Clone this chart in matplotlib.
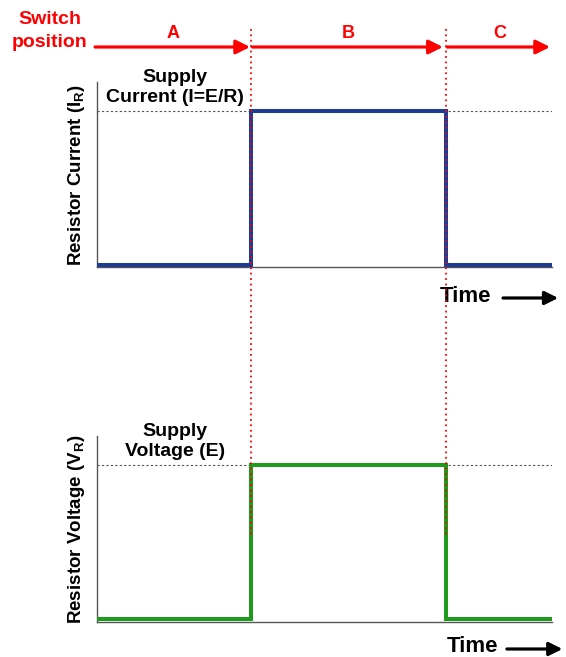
import matplotlib
matplotlib.use("Agg")
import matplotlib.pyplot as plt

plt.rcParams["font.family"] = ["Liberation Sans", "DejaVu Sans"]
plt.rcParams["font.weight"] = "bold"

# switch timeline (arbitrary time units)
time = [0.0, 4.0, 4.0, 9.05, 9.05, 11.8]
current = [0, 0, 1, 1, 0, 0]
voltage = [0, 0, 1, 1, 0, 0]
switch_times = [4.0, 9.05]
positions = ["A", "B", "C"]
segments = [(-0.05, 3.97), (4.03, 8.97), (9.08, 11.75)]

W, H = 566, 657
fig = plt.figure(figsize=(W / 100, H / 100), dpi=100)

x0, x1 = 97, 552
def px_axes(top, bottom):
    return fig.add_axes([x0 / W, 1 - bottom / H, (x1 - x0) / W, (bottom - top) / H])

ax1 = px_axes(82, 267)
ax2 = px_axes(436, 622)
ax1.set_ylim(-0.013, 1.188)
ax2.set_ylim(-0.02, 1.188)

for ax, y, col, lab, sup in [
    (ax1, current, "#1c3c96", "Resistor Current (I$_\\mathregular{R}$)", "Supply\nCurrent (I=E/R)"),
    (ax2, voltage, "#1f9a1f", "Resistor Voltage (V$_\\mathregular{R}$)", "Supply\nVoltage (E)"),
]:
    ax.set_xlim(0, 11.8)
    ax.axhline(1, color="#555555", ls=(0, (2, 2)), lw=0.8, zorder=1)
    ax.plot(time, y, color=col, lw=2.9, solid_joinstyle="miter", zorder=3)
    for s in ["top", "right"]:
        ax.spines[s].set_visible(False)
    for s in ["left", "bottom"]:
        ax.spines[s].set_color("#555555")
        ax.spines[s].set_linewidth(1.0)
    ax.set_xticks([])
    ax.set_yticks([])
    ax.set_ylabel(lab, fontsize=13.5, fontweight="bold", labelpad=7)
    ax.text(2.03, 1.035, sup, ha="center", va="bottom", fontsize=14, fontweight="bold",
            linespacing=1.2)

# overlay in pixel-y coordinates for annotations across both panels
ov = fig.add_axes([x0 / W, 0, (x1 - x0) / W, 1])
ov.set_xlim(0, 11.8)
ov.set_ylim(H, 0)
ov.axis("off")
ov.patch.set_alpha(0)

for t in switch_times:
    ov.plot([t, t], [29, 537], color="red", ls=(0, (1, 2)), lw=1.3, zorder=5)

ov.text(-1.22, 31, "Switch\nposition", color="red", fontsize=14, fontweight="bold",
        ha="center", va="center", linespacing=1.4)
for (a, b), p in zip(segments, positions):
    ov.annotate("", xy=(b, 47), xytext=(a, 47),
                arrowprops=dict(arrowstyle="-|>", color="red", lw=2.3, mutation_scale=21,
                                shrinkA=0, shrinkB=0))
    ov.text((a + b) / 2 + 0.02, 34, p, color="red", fontsize=13, fontweight="bold",
            ha="center", va="center")

for ty, xs, ax_a, ax_b in [(296, 8.9, 10.53, 11.96), (647, 9.08, 10.63, 12.07)]:
    ov.text(xs, ty, "Time", fontsize=16, fontweight="bold", ha="left", va="center")
    ov.annotate("", xy=(ax_b, ty + 2), xytext=(ax_a, ty + 2),
                arrowprops=dict(arrowstyle="-|>", color="black", lw=2.3, mutation_scale=20,
                                shrinkA=0, shrinkB=0), annotation_clip=False)

fig.savefig("out.png", dpi=100)
